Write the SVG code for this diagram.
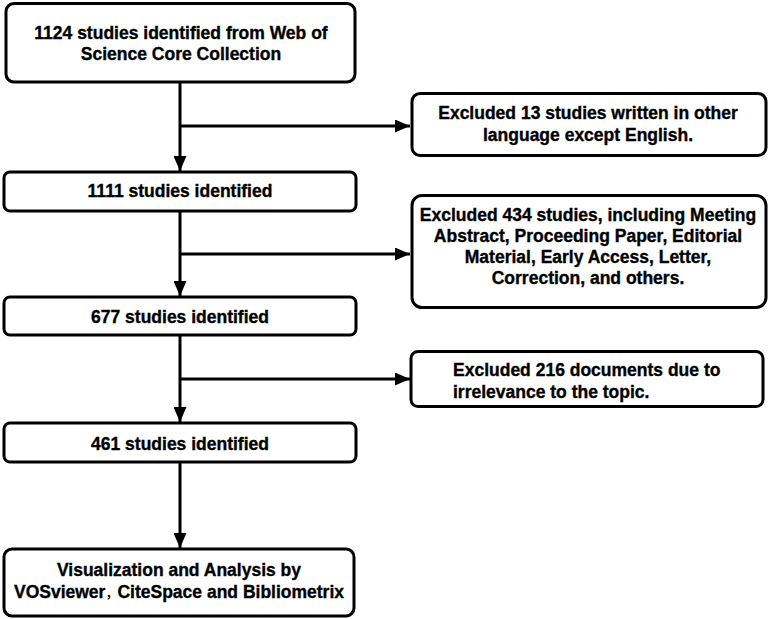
<svg xmlns="http://www.w3.org/2000/svg" width="768" height="619" viewBox="0 0 768 619">
<style>
.box{fill:#fff;stroke:#000;stroke-width:3}
.t{font-family:"Liberation Sans",Arial,sans-serif;font-weight:bold;font-size:17.5px;fill:#000;stroke:#000;stroke-width:0.35;text-anchor:middle}
.l{text-anchor:start}
.c{fill:none;stroke:#000;stroke-width:3}
</style>
<defs>
<marker id="ah" viewBox="0 0 15 13" refX="15" refY="6.5" markerWidth="15" markerHeight="13" markerUnits="userSpaceOnUse" orient="auto">
<path d="M0,0 L15,6.5 L0,13 Z" fill="#000"/>
</marker>
</defs>
<rect width="768" height="619" fill="#fff"/>
<g id="connectors">
<line class="c" x1="180" y1="82" x2="180" y2="171" marker-end="url(#ah)"/>
<line class="c" x1="180" y1="211" x2="180" y2="296" marker-end="url(#ah)"/>
<line class="c" x1="180" y1="335" x2="180" y2="422" marker-end="url(#ah)"/>
<line class="c" x1="180" y1="462" x2="180" y2="548" marker-end="url(#ah)"/>
<line class="c" x1="180" y1="126" x2="410" y2="126" marker-end="url(#ah)"/>
<line class="c" x1="180" y1="254" x2="410" y2="254" marker-end="url(#ah)"/>
<line class="c" x1="180" y1="379" x2="410" y2="379" marker-end="url(#ah)"/>
</g>
<g id="n1">
<rect class="box" x="6" y="3.5" width="349" height="78.5" rx="8"/>
<text class="t" x="181" y="39">1124 studies identified from Web of</text>
<text class="t" x="181" y="60">Science Core Collection</text>
</g>
<g id="n2">
<rect class="box" x="4" y="172" width="352" height="39" rx="6"/>
<text class="t" x="180" y="197">1111 studies identified</text>
</g>
<g id="n3">
<rect class="box" x="4" y="297" width="352" height="38" rx="6"/>
<text class="t" x="180" y="323">677 studies identified</text>
</g>
<g id="n4">
<rect class="box" x="4" y="423" width="352" height="39" rx="6"/>
<text class="t" x="180" y="450">461 studies identified</text>
</g>
<g id="n5">
<rect class="box" x="4" y="549" width="350" height="67" rx="8"/>
<text class="t" x="179" y="576">Visualization and Analysis by</text>
<text class="t" x="179" y="598">VOSviewer<tspan font-family="'Noto Sans CJK SC',sans-serif" font-size="12" stroke-width="0">，</tspan>CiteSpace and Bibliometrix</text>
</g>
<g id="e1">
<rect class="box" x="412" y="93.5" width="354" height="62" rx="8"/>
<text class="t" x="588" y="119">Excluded 13 studies written in other</text>
<text class="t" x="588" y="141">language except English.</text>
</g>
<g id="e2">
<rect class="box" x="412" y="195.5" width="354" height="112" rx="10"/>
<text class="t" x="588" y="221">Excluded 434 studies, including Meeting</text>
<text class="t" x="588" y="242">Abstract, Proceeding Paper, Editorial</text>
<text class="t" x="588" y="263">Material, Early Access, Letter,</text>
<text class="t" x="588" y="284">Correction, and others.</text>
</g>
<g id="e3">
<rect class="box" x="411" y="351.5" width="352" height="55" rx="7"/>
<text class="t l" x="453" y="376">Excluded 216 documents due to</text>
<text class="t l" x="453" y="398">irrelevance to the topic.</text>
</g>
</svg>
